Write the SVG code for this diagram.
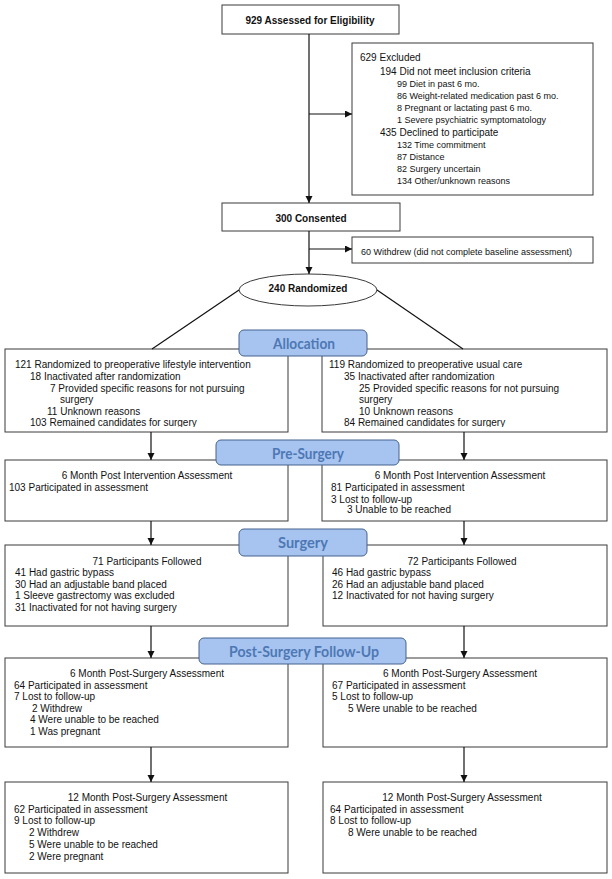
<svg xmlns="http://www.w3.org/2000/svg" width="612" height="879" viewBox="0 0 612 879">
<style>
.box{fill:#fff;stroke:#3a3a3a;stroke-width:1}
.t{font-family:"Liberation Sans",Arial,sans-serif;font-size:10px;fill:#111}
.s{font-family:"Liberation Sans",Arial,sans-serif;font-size:9px;fill:#111}
.b{font-family:"Liberation Sans",Arial,sans-serif;font-size:10px;font-weight:bold;fill:#111}
.c{text-anchor:middle}
.ln{stroke:#111;stroke-width:1.2;fill:none}
.ar{marker-end:url(#ah)}
.lab{fill:#a7c4f1;stroke:#44638f;stroke-width:1}
.lt{font-family:Lato,"Open Sans",sans-serif;font-size:15px;font-weight:bold;fill:#4e78b4;text-anchor:middle}
</style>
<defs>
<marker id="ah" markerUnits="userSpaceOnUse" markerWidth="8" markerHeight="8" refX="7" refY="3.5" orient="auto">
<path d="M0,0 L7,3.5 L0,7 z" fill="#111"/>
</marker>
<clipPath id="cl1"><rect x="0" y="340" width="612" height="87"/></clipPath>
<clipPath id="cl2"><rect x="0" y="455" width="612" height="59"/></clipPath>
</defs>

<g id="n-assessed">
<rect class="box" x="222" y="5" width="177" height="29"/>
<text class="b c" x="310" y="23.6">929 Assessed for Eligibility</text>
</g>

<g id="n-excluded">
<rect class="box" x="352" y="43" width="241" height="152"/>
<text class="t" x="360" y="61">629 Excluded</text>
<text class="t" x="380" y="75">194 Did not meet inclusion criteria</text>
<text class="s" x="397" y="87">99 Diet in past 6 mo.</text>
<text class="s" x="397" y="99">86 Weight-related medication past 6 mo.</text>
<text class="s" x="397" y="111">8 Pregnant or lactating past 6 mo.</text>
<text class="s" x="397" y="123">1 Severe psychiatric symptomatology</text>
<text class="t" x="380" y="136">435 Declined to participate</text>
<text class="s" x="397" y="148">132 Time commitment</text>
<text class="s" x="397" y="160">87 Distance</text>
<text class="s" x="397" y="172">82 Surgery uncertain</text>
<text class="s" x="397" y="184">134 Other/unknown reasons</text>
</g>

<g id="n-consented">
<rect class="box" x="222" y="203" width="178" height="28"/>
<text class="b c" x="311" y="221.6">300 Consented</text>
</g>

<g id="n-withdrew">
<rect class="box" x="352" y="237" width="241" height="26"/>
<text class="s" x="361" y="255.3">60 Withdrew (did not complete baseline assessment)</text>
</g>

<g id="n-randomized">
<ellipse class="box" cx="308" cy="290" rx="69" ry="16"/>
<text class="b c" x="308" y="291.6">240 Randomized</text>
</g>

<g id="n-alloc-left">
<rect class="box" x="5" y="349" width="283" height="83"/>
<text class="t" x="15" y="368">121 Randomized to preoperative lifestyle intervention</text>
<text class="t" x="30" y="380">18 Inactivated after randomization</text>
<text class="t" x="50" y="391.5">7 Provided specific reasons for not pursuing</text>
<text class="t" x="60" y="403">surgery</text>
<text class="t" x="47" y="414.5">11 Unknown reasons</text>
<text class="t" x="30" y="426.3" clip-path="url(#cl1)">103 Remained candidates for surgery</text>
</g>

<g id="n-alloc-right">
<rect class="box" x="322" y="349" width="285" height="83"/>
<text class="t" x="329" y="368">119 Randomized to preoperative usual care</text>
<text class="t" x="344" y="380">35 Inactivated after randomization</text>
<text class="t" x="359" y="391.5">25 Provided specific reasons for not pursuing</text>
<text class="t" x="359" y="403">surgery</text>
<text class="t" x="359" y="414.5">10 Unknown reasons</text>
<text class="t" x="344" y="426.3" clip-path="url(#cl1)">84 Remained candidates for surgery</text>
</g>

<g id="n-pre-left">
<rect class="box" x="5" y="460" width="283" height="61"/>
<text class="t c" x="147" y="479">6 Month Post Intervention Assessment</text>
<text class="t" x="9" y="491">103 Participated in assessment</text>
</g>

<g id="n-pre-right">
<rect class="box" x="322" y="460" width="285" height="61"/>
<text class="t c" x="460" y="479">6 Month Post Intervention Assessment</text>
<text class="t" x="331" y="491">81 Participated in assessment</text>
<text class="t" x="331" y="502.5">3 Lost to follow-up</text>
<text class="t" x="347" y="513" clip-path="url(#cl2)">3 Unable to be reached</text>
</g>

<g id="n-surg-left">
<rect class="box" x="5" y="545" width="283" height="81"/>
<text class="t c" x="147" y="564.6">71 Participants Followed</text>
<text class="t" x="15" y="576">41 Had gastric bypass</text>
<text class="t" x="15" y="587.5">30 Had an adjustable band placed</text>
<text class="t" x="15" y="599">1 Sleeve gastrectomy was excluded</text>
<text class="t" x="15" y="610.6">31 Inactivated for not having surgery</text>
</g>

<g id="n-surg-right">
<rect class="box" x="323" y="545" width="284" height="81"/>
<text class="t c" x="462" y="564.6">72 Participants Followed</text>
<text class="t" x="332" y="576">46 Had gastric bypass</text>
<text class="t" x="332" y="587.5">26 Had an adjustable band placed</text>
<text class="t" x="332" y="599">12 Inactivated for not having surgery</text>
</g>

<g id="n-post-left">
<rect class="box" x="5" y="658" width="283" height="89"/>
<text class="t c" x="147" y="676.6">6 Month Post-Surgery Assessment</text>
<text class="t" x="14" y="688.6">64 Participated in assessment</text>
<text class="t" x="14" y="700">7 Lost to follow-up</text>
<text class="t" x="32" y="711.6">2 Withdrew</text>
<text class="t" x="30" y="723.3">4 Were unable to be reached</text>
<text class="t" x="30" y="735">1 Was pregnant</text>
</g>

<g id="n-post-right">
<rect class="box" x="323" y="658" width="284" height="89"/>
<text class="t c" x="460" y="676.6">6 Month Post-Surgery Assessment</text>
<text class="t" x="332" y="688.6">67 Participated in assessment</text>
<text class="t" x="332" y="700">5 Lost to follow-up</text>
<text class="t" x="348" y="711.6">5 Were unable to be reached</text>
</g>

<g id="n-12m-left">
<rect class="box" x="5" y="782" width="283" height="91"/>
<text class="t c" x="147.5" y="800.6">12 Month Post-Surgery Assessment</text>
<text class="t" x="14" y="812.6">62 Participated in assessment</text>
<text class="t" x="14" y="824.4">9 Lost to follow-up</text>
<text class="t" x="29" y="836.2">2 Withdrew</text>
<text class="t" x="29" y="848">5 Were unable to be reached</text>
<text class="t" x="29" y="859.8">2 Were pregnant</text>
</g>

<g id="n-12m-right">
<rect class="box" x="323" y="782" width="284" height="91"/>
<text class="t c" x="462" y="800.6">12 Month Post-Surgery Assessment</text>
<text class="t" x="330" y="812.6">64 Participated in assessment</text>
<text class="t" x="330" y="824.4">8 Lost to follow-up</text>
<text class="t" x="348" y="836.2">8 Were unable to be reached</text>
</g>

<g id="connectors">
<line class="ln ar" x1="309" y1="34" x2="309" y2="203"/>
<line class="ln ar" x1="309" y1="114" x2="352" y2="114"/>
<line class="ln ar" x1="309" y1="231" x2="309" y2="274"/>
<line class="ln ar" x1="309" y1="249" x2="352" y2="249"/>
<line class="ln" x1="239" y1="290" x2="152" y2="349"/>
<line class="ln" x1="377" y1="290" x2="463" y2="349"/>
<line class="ln ar" x1="151" y1="432" x2="151" y2="460"/>
<line class="ln ar" x1="464" y1="432" x2="464" y2="460"/>
<line class="ln ar" x1="151" y1="521" x2="151" y2="545"/>
<line class="ln ar" x1="464" y1="521" x2="464" y2="545"/>
<line class="ln ar" x1="151" y1="626" x2="151" y2="658"/>
<line class="ln ar" x1="464" y1="626" x2="464" y2="658"/>
<line class="ln ar" x1="151" y1="747" x2="151" y2="782"/>
<line class="ln ar" x1="464" y1="747" x2="464" y2="782"/>
</g>

<g id="lab-allocation">
<rect class="lab" x="239" y="330" width="128" height="26" rx="5"/>
<text class="lt" x="304" y="348.5" textLength="62" lengthAdjust="spacingAndGlyphs">Allocation</text>
</g>
<g id="lab-presurgery">
<rect class="lab" x="216" y="440" width="183" height="25" rx="5"/>
<text class="lt" x="308" y="458.5" textLength="72" lengthAdjust="spacingAndGlyphs">Pre-Surgery</text>
</g>
<g id="lab-surgery">
<rect class="lab" x="239" y="529" width="128" height="27" rx="5"/>
<text class="lt" x="303" y="548" textLength="50" lengthAdjust="spacingAndGlyphs">Surgery</text>
</g>
<g id="lab-postsurgery">
<rect class="lab" x="199" y="638" width="207" height="26" rx="5"/>
<text class="lt" x="304" y="657" textLength="150" lengthAdjust="spacingAndGlyphs">Post-Surgery Follow-Up</text>
</g>
</svg>
